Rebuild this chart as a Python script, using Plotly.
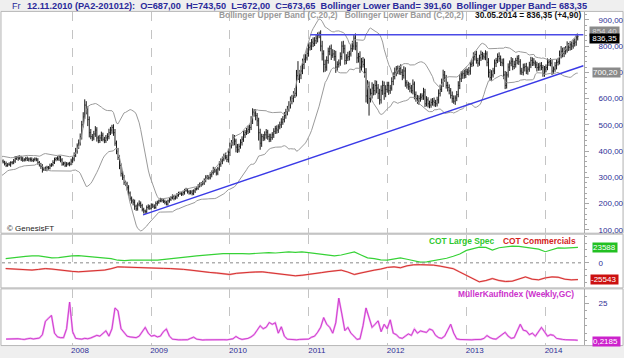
import pandas as pd
import plotly.graph_objects as go

# ---------------- DATA ----------------
# weekly closes (Friday), palladium PA2; first 24 weeks only warm up the Bollinger bands
close_warmup = [330,338,342,325,318,312,316,322,330,336,345,352,340,330,334,342,350,345,352,360,366,372,376,362]
close_2007 = [358,352,345,350,348,356,355,362,372,376,372,378,370,365,368,372,366,370,368,364,368,370,366,356,350,342,330,334,330,338,335,344,348,356,368,372,370,378,366,350,354,346,350,352,350,362]
close_2008 = [370,385,400,420,430,455,500,530,575,560,520,470,455,450,465,480,450,440,450,460,445,440,450,455,470,480,490,470,430,400,375,345,315,300,280,275,260,240,220,210,205,190,180,195,200,192,178,172,170,185,188,182]
close_2009 = [195,190,185,200,205,210,215,212,208,205,198,210,215,222,228,220,225,232,238,240,236,242,250,252,245,240,244,238,248,255,258,268,272,275,278,290,300,302,298,310,318,330,324,316,332,350,362,370,382,376,368,395]
close_2010 = [420,432,450,438,415,405,418,432,445,462,470,476,482,490,515,548,545,535,515,470,430,455,450,462,472,455,445,452,462,475,485,480,492,500,510,520,535,550,560,575,590,600,612,620,687,673.65,690,705,730,750,755,772,795]
close_2011 = [800,815,810,820,830,840,845,800,770,730,720,745,780,790,765,770,760,720,730,735,760,800,790,745,755,760,770,790,800,830,800,755,760,720,740,730,700,610,645,600,620,640,630,650,640,620,595,630,650,620,635,650]
close_2012 = [630,640,665,685,700,712,705,715,700,688,705,660,652,645,640,630,655,615,600,590,600,605,610,625,580,595,580,575,585,590,585,580,595,620,635,660,690,678,650,642,630,612,600,590,602,615,650,675,690,695,688,702]
close_2013 = [700,705,730,735,760,768,745,735,755,768,762,758,770,738,700,680,690,705,735,745,760,752,738,735,690,650,690,720,735,742,722,730,745,752,740,705,700,718,722,705,712,728,745,738,735,728,718,720,725,718,695,712]
close_2014 = [718,738,740,735,705,712,725,738,740,765,780,772,780,785,800,795,805,800,810,815,831.45,836.35]

# bar extension above max(open, close) and below min(open, close)
wick_up_warmup = [6,8,5,7,9,4,6,8,5,7,6,9,5,8,6,7,5,9,6,8,7,5,8,6]
wick_up_2007 = [6,5,8,4,7,5,6,8,9,5,7,6,4,8,5,6,7,5,6,8,4,6,5,7,6,5,8,4,7,6,5,8,6,9,7,5,8,6,4,7,5,6,8,5,7,9]
wick_up_2008 = [8,10,12,9,14,12,15,18,22,15,10,12,14,10,12,15,11,9,12,14,10,9,11,13,15,12,10,12,14,10,12,9,8,10,9,7,8,10,6,7,8,10,6,9,12,8,7,6,5,8,9,7]
wick_up_2009 = [6,5,7,8,6,5,7,6,5,7,6,5,8,6,7,5,6,8,7,6,5,7,6,8,5,6,7,8,6,5,7,6,8,7,9,6,8,7,6,9,8,10,7,9,8,11,10,9,8,12,10,14]
wick_up_2010 = [12,10,14,11,9,12,10,13,11,14,10,12,15,11,18,15,12,14,10,12,15,11,10,13,12,9,11,14,10,12,11,13,10,12,15,13,14,11,12,15,18,14,16,20,22,55.5,18,20,22,18,15,20,16]
wick_up_2011 = [15,12,18,14,16,12,10,15,20,14,18,16,14,12,16,18,15,22,12,14,16,18,20,15,14,18,12,16,20,13,18,16,14,20,15,18,22,16,25,20,18,22,16,20,18,15,17,20,18,15,16,14]
wick_up_2012 = [14,12,16,15,18,12,14,10,16,12,18,14,10,12,15,12,18,10,12,14,12,15,10,16,12,14,10,12,15,12,14,10,12,15,18,16,20,15,12,14,12,10,15,12,10,14,16,18,14,12,15,12]
wick_up_2013 = [12,15,10,14,16,12,14,10,12,15,10,12,14,10,16,12,18,12,14,10,12,16,12,14,18,15,12,14,10,16,12,14,10,12,14,10,12,15,12,14,10,12,14,12,16,10,12,15,12,14,10,12]
wick_up_2014 = [12,15,10,14,12,10,14,12,15,18,20,14,16,15,18,12,14,12,15,14,10,8]

wick_dn_warmup = [5,7,6,8,4,6,7,5,8,6,5,7,6,4,8,5,7,6,5,8,6,7,5,9]
wick_dn_2007 = [5,7,6,5,4,8,6,5,7,6,9,5,8,6,5,7,4,6,8,5,6,7,5,8,9,10,12,6,5,7,6,5,4,6,5,7,6,8,9,6,5,7,6,5,8,4]
wick_dn_2008 = [7,9,8,10,12,9,11,10,8,20,25,18,10,12,9,11,14,10,9,12,8,10,9,11,10,9,14,12,10,12,9,14,12,10,9,8,10,12,9,10,12,14,8,7,6,9,8,10,9,7,8,6]
wick_dn_2009 = [5,7,6,5,8,6,5,7,6,8,5,6,7,5,6,8,5,7,6,5,7,6,8,5,7,6,5,7,6,8,5,6,7,8,6,7,9,8,7,6,10,8,7,9,8,7,10,12,9,8,10,12]
wick_dn_2010 = [14,10,12,16,20,12,10,9,11,10,12,9,11,13,10,12,14,18,20,30,25,14,12,10,15,12,11,10,9,12,10,14,11,9,12,10,11,12,14,10,13,12,14,10,12,1.65,14,16,12,18,14,10,12]
wick_dn_2011 = [12,15,14,10,12,16,10,20,25,30,18,14,12,15,18,10,16,22,14,12,10,12,18,16,14,12,15,10,12,14,16,20,18,22,15,12,20,25,30,65,15,20,18,16,20,22,18,14,16,25,15,12]
wick_dn_2012 = [16,12,10,14,12,15,12,14,10,18,12,15,14,12,16,10,14,18,12,10,14,12,10,15,12,10,14,12,10,12,15,12,10,14,12,10,16,14,12,15,14,12,16,10,14,12,10,14,12,15,12,10]
wick_dn_2013 = [10,12,14,10,12,15,12,14,10,12,14,10,12,15,20,12,14,10,12,15,10,12,14,12,16,14,12,10,15,12,14,10,12,15,12,14,10,12,15,12,14,10,12,14,10,12,15,12,14,10,12,12]
wick_dn_2014 = [12,10,14,12,15,12,10,14,12,10,12,15,14,12,10,14,12,15,10,12,14,10]

# trend lines drawn on the chart
support_dates = ["2008-11-25", "2014-06-25"]
support_prices = [157, 725]
resist_dates = ["2011-01-08", "2014-06-25"]
resist_prices = [843, 843]

# COT (monthly, in thousands of contracts), Feb 2007 .. May 2014
cot_large_spec = [6.5,8.0,9.1,10.0,10.6,10.5,9.0,7.6,8.0,9.5,10.6,
                  11.0,10.2,9.5,8.5,8.0,6.5,4.0,3.5,4.2,3.8,4.5,4.0,
                  4.2,5.0,6.0,7.6,8.5,9.5,10.5,11.6,12.5,13.2,14.1,14.0,
                  14.5,14.1,13.8,14.5,15.0,15.6,15.0,15.8,16.7,16.0,16.7,15.5,
                  14.1,13.0,11.5,10.6,12.0,14.0,16.7,12.0,7.6,6.5,4.5,4.0,
                  6.0,7.6,5.5,3.0,1.0,1.5,3.0,5.0,7.0,10.0,13.5,19.0,
                  22.0,24.0,23.5,19.5,23.0,24.5,25.5,25.0,23.5,22.5,21.0,17.0,
                  20.0,22.8,22.5,23.0,23.588]
cot_commercials = [-8.7,-9.5,-10.5,-11.2,-11.0,-10.0,-8.7,-9.5,-11.0,-12.0,-13.0,
                   -13.7,-13.0,-12.5,-11.5,-11.0,-9.0,-6.1,-6.5,-7.0,-7.6,-7.6,-8.0,
                   -8.2,-8.5,-8.7,-9.0,-10.0,-11.0,-12.5,-13.5,-14.7,-15.5,-16.5,-17.8,
                   -16.0,-15.0,-14.5,-14.0,-13.7,-15.0,-16.0,-17.0,-18.0,-19.8,-19.0,-18.0,
                   -16.3,-15.0,-13.5,-12.0,-11.2,-14.0,-17.8,-15.5,-13.0,-11.2,-9.5,-7.0,
                   -6.1,-7.5,-4.5,-3.0,-2.8,-2.6,-3.5,-5.0,-7.0,-9.0,-14.0,-19.0,
                   -25.0,-29.0,-27.0,-24.0,-27.0,-28.5,-28.0,-25.0,-21.5,-25.0,-26.0,-23.0,
                   -21.5,-22.0,-25.0,-26.0,-25.543]

# MüllerKaufIndex (bi-weekly)
mki = [1.0,1.2,0.9,1.1,1.3,1.0,0.8,1.2,1.5,1.1,1.4,1.7,
       4,13,15,17,5,2.5,2,2,
       8,26,6,1.5,
       1.2,1,1.5,1.2,1.8,2.5,
       3.5,3,4.5,6.6,3,
       8,22,20,8,5.6,3,
       2.5,2,2,3,
       6,8.9,5,3,3.5,2.5,3,6,7.8,3,1,
       0.6,0.5,0.5,0.7,0.6,
       1.5,2.3,1,
       0.5,0.4,0.5,0.6,0.5,0.4,0.5,0.5,0.6,0.5,0.8,1.2,
       2.8,1.5,0.8,1,1.5,2.5,4,7,10,8,9,12.2,11,12,5,9.3,3,1,0.8,
       0.6,0.5,0.8,1,0.8,1,
       2.3,3,5.6,9,15.5,11,8.9,5,12,28.6,18,6.7,8.9,5,3,0.8,1.2,
       10,22,15.5,8.9,11,13.3,6,11,8,14,5,4,2,
       1.5,3,4.5,3.5,7.8,5,6.5,6,5.5,7.8,7,3.5,2,1.5,3,7,11,5,1.2,0.8,
       0.6,0.5,0.6,0.5,0.7,0.6,0.8,
       1.5,3.4,2,1.2,1,2.5,4.5,5.6,3,1.5,2,
       6,11,7,6.5,4,5,3,6,8.9,6,3,4,3.5,
       1.5,1,0.8,0.6,0.7,0.5,0.4,0.2185]

price_ticks = [100, 200, 300, 400, 500, 600, 700, 800, 900]

# ---------------- PREP ----------------
close = (close_warmup + close_2007 + close_2008 + close_2009 + close_2010 +
         close_2011 + close_2012 + close_2013 + close_2014)
wick_up = (wick_up_warmup + wick_up_2007 + wick_up_2008 + wick_up_2009 + wick_up_2010 +
           wick_up_2011 + wick_up_2012 + wick_up_2013 + wick_up_2014)
wick_dn = (wick_dn_warmup + wick_dn_2007 + wick_dn_2008 + wick_dn_2009 + wick_dn_2010 +
           wick_dn_2011 + wick_dn_2012 + wick_dn_2013 + wick_dn_2014)
assert len(close) == len(wick_up) == len(wick_dn), (len(close), len(wick_up), len(wick_dn))

dates = pd.date_range(end="2014-05-30", periods=len(close), freq="W-FRI")
opens = [close[0]] + close[:-1]
highs = [max(o, c) + u for o, c, u in zip(opens, close, wick_up)]
lows = [min(o, c) - d for o, c, d in zip(opens, close, wick_dn)]

s = pd.Series(close, index=dates)
mid = s.rolling(20).mean()
sd = s.rolling(20).std(ddof=0)
bb_up = mid + 2 * sd
bb_lo = mid - 2 * sd

cot_dates = pd.date_range("2007-03-01", periods=len(cot_large_spec), freq="MS") - pd.Timedelta(days=1)
mki_dates = pd.date_range(end="2014-05-30", periods=len(mki), freq="2W-FRI")

# ---------------- LAYOUT HELPERS ----------------
W, H = 624, 358
def fy(p):
    return 1 - p / H
def fx(p):
    return p / W

X0, X1 = 2, 584
MAIN = (12, 234)
COT = (236, 289)
MKI = (291, 347)

AXIS_BLUE = "#2e2e96"
SANS = "Liberation Sans, Arial, sans-serif"

fig = go.Figure()

fig.add_trace(go.Scatter(x=dates, y=bb_up, mode="lines", line=dict(color="#9a9a9a", width=1),
                         hoverinfo="skip", showlegend=False, xaxis="x", yaxis="y"))
fig.add_trace(go.Scatter(x=dates, y=bb_lo, mode="lines", line=dict(color="#9a9a9a", width=1),
                         hoverinfo="skip", showlegend=False, xaxis="x", yaxis="y"))
fig.add_trace(go.Ohlc(x=dates, open=opens, high=highs, low=lows, close=close,
                      increasing=dict(line=dict(color="#1a1a1a", width=1)),
                      decreasing=dict(line=dict(color="#1a1a1a", width=1)),
                      tickwidth=0.4, hoverinfo="skip", showlegend=False, xaxis="x", yaxis="y"))
fig.add_trace(go.Scatter(x=support_dates, y=support_prices, mode="lines",
                         line=dict(color="#3a3ae6", width=1.4), showlegend=False, xaxis="x", yaxis="y"))
fig.add_trace(go.Scatter(x=resist_dates, y=resist_prices, mode="lines",
                         line=dict(color="#4a4ae6", width=1.4), showlegend=False, xaxis="x", yaxis="y"))

fig.add_trace(go.Scatter(x=cot_dates, y=[v * 1000 for v in cot_large_spec], mode="lines",
                         line=dict(color="#36d236", width=1.2), showlegend=False, xaxis="x2", yaxis="y2"))
fig.add_trace(go.Scatter(x=cot_dates, y=[v * 1000 for v in cot_commercials], mode="lines",
                         line=dict(color="#f2b0b0", width=1.8), showlegend=False, xaxis="x2", yaxis="y2"))
fig.add_trace(go.Scatter(x=cot_dates, y=[v * 1000 for v in cot_commercials], mode="lines",
                         line=dict(color="#d42020", width=0.9), showlegend=False, xaxis="x2", yaxis="y2"))

fig.add_trace(go.Scatter(x=mki_dates, y=mki, mode="lines",
                         line=dict(color="#f0a8f0", width=2), showlegend=False, xaxis="x3", yaxis="y3"))
fig.add_trace(go.Scatter(x=mki_dates, y=mki, mode="lines",
                         line=dict(color="#cc33cc", width=0.9), showlegend=False, xaxis="x3", yaxis="y3"))

xcommon = dict(domain=[fx(X0), fx(X1)], type="date", showgrid=True, gridcolor="#c4c4c4",
               griddash="dash", gridwidth=1, tick0="2008-01-01", dtick="M12",
               showline=False, zeroline=False, ticks="", fixedrange=True)

ycommon = dict(side="right", showgrid=False, zeroline=False, showline=True, linecolor="#a8a8a8",
               ticks="outside", ticklen=4, tickcolor="#a8a8a8", ticklabelstandoff=8,
               tickfont=dict(family=SANS, size=8, color=AXIS_BLUE), fixedrange=True)

fig.update_layout(
    width=W, height=H, margin=dict(l=0, r=0, t=0, b=0), autosize=False,
    paper_bgcolor="#efefef", plot_bgcolor="white",
    xaxis=dict(**xcommon, anchor="y", range=["2007-02-11", "2014-06-28"], showticklabels=False,
               rangeslider=dict(visible=False)),
    xaxis2=dict(**xcommon, anchor="y2", matches="x", showticklabels=False),
    xaxis3=dict(**xcommon, anchor="y3", matches="x", showticklabels=True, tickformat="%Y",
                ticklabelshift=8, ticklabelstandoff=-1,
                tickfont=dict(family=SANS, size=8, color=AXIS_BLUE)),
    yaxis=dict(**ycommon, anchor="x", domain=[fy(MAIN[1]), fy(MAIN[0])], range=[89, 930],
               tickvals=price_ticks, ticktext=[f"{v},00" for v in price_ticks],
               minor=dict(ticks="outside", ticklen=2, dtick=20, tickcolor="#a8a8a8", showgrid=False)),
    yaxis2=dict(**ycommon, anchor="x2", domain=[fy(COT[1]), fy(COT[0])], range=[-37500, 43000],
                tickvals=[0], ticktext=["0"],
                minor=dict(ticks="outside", ticklen=2, dtick=10000, tickcolor="#a8a8a8", showgrid=False)),
    yaxis3=dict(**ycommon, anchor="x3", domain=[fy(MKI[1]), fy(MKI[0])], range=[-3, 34.5],
                tickvals=[25], ticktext=["25"],
                minor=dict(ticks="outside", ticklen=2, dtick=5, tickcolor="#a8a8a8", showgrid=False)),
)

# panel backgrounds and borders
shapes = []
for top, bot in (MAIN, COT, MKI):
    shapes.append(dict(type="rect", xref="paper", yref="paper", x0=fx(1), x1=fx(623),
                       y0=fy(bot + 0.5), y1=fy(top - 0.5), fillcolor="white",
                       line=dict(color="#b8b8b8", width=1), layer="below"))
shapes.append(dict(type="line", xref="x2 domain", yref="y2", x0=0, x1=1, y0=0, y1=0,
                   line=dict(color="#888888", width=1, dash="dot")))
fig.update_layout(shapes=shapes)

ann = []
def text(x, y, t, size=9, color="black", anchor="left", family=SANS, bg=None):
    d = dict(xref="paper", yref="paper", x=fx(x), y=fy(y), text=t, showarrow=False,
             xanchor=anchor, yanchor="middle", font=dict(family=family, size=size, color=color),
             borderpad=0)
    if bg:
        d["bgcolor"] = bg
    ann.append(d)

HEAD = "#2a2a9a"
text(11, 6, "Fr", 9, HEAD)
text(26, 6, "<b>12.11.2010 (PA2-201012):  O=687,00  H=743,50  L=672,00  C=673,65  "
            "Bollinger Lower Band= 391,60  Bollinger Upper Band= 683,35</b>", 9.2, HEAD)
text(218, 15.5, "<b>Bollinger Upper Band (C,20,2)   Bollinger Lower Band (C,20,2)</b>", 8.4, "#9a9a9a")
text(474, 15.5, "<b>30.05.2014 = 836,35 (+4,90)</b>", 8.4, "#111111")
text(6, 229.5, "© GenesisFT", 8, "#222222")
text(428, 242, "<b>COT Large Spec</b>", 8.4, "#2ec82e")
text(502, 242, "<b>COT Commercials</b>", 8.4, "#d41e1e")
text(457, 296, "<b>MüllerKaufIndex (Weekly,GC)</b>", 8.4, "#cc33cc")

# last-value boxes on the right scale
text(589, 31.5, " 854,40 ", 8, "#dddddd", bg="#8a8a8a")
text(589, 39, " 836,35 ", 8, "white", bg="#000000")
text(592, 73, "700,20 ", 8, "white", bg="#8a8a8a")
text(592, 249, "23588 ", 8, "white", bg="#22c022")
text(590, 281.5, "-25543 ", 8, "white", bg="#cc1010")
text(592, 343.5, "0,2185 ", 8, "white", bg="#cc22cc")
fig.update_layout(annotations=ann)

fig.write_html("out.html", config={"displayModeBar": False, "staticPlot": True},
               post_script="document.body.style.margin='0';")
